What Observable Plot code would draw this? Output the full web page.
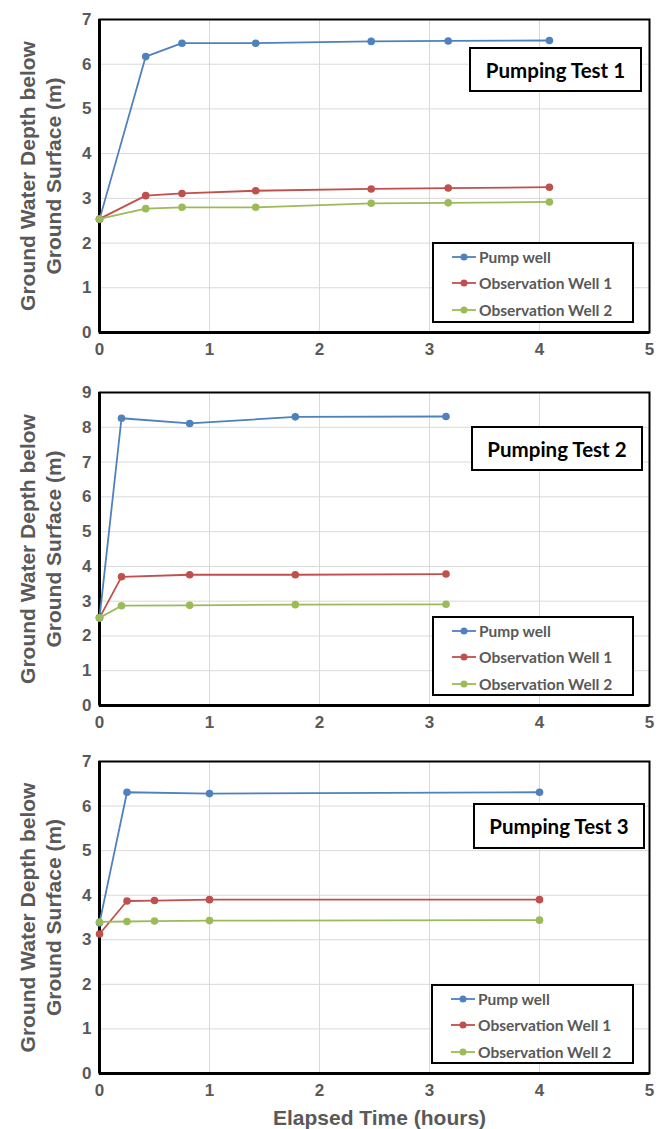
<!DOCTYPE html>
<html>
<head>
<meta charset="utf-8">
<script src="https://cdn.jsdelivr.net/npm/d3@7"></script>
<script src="https://cdn.jsdelivr.net/npm/@observablehq/plot@0.6"></script>
<style>
  html, body { margin: 0; padding: 0; background: #fff; }
  #wrap { position: relative; width: 660px; height: 1129px; }
  #wrap svg.plot { display: block; overflow: visible; }
  .box { position: absolute; box-sizing: border-box; border: 2px solid #000; background: #fff; }
  .title { display: flex; align-items: center; justify-content: center; font-family: Lato, sans-serif; font-weight: bold; font-size: 20.5px; color: #000; }
  .legend { font-family: Lato, sans-serif; font-weight: bold; font-size: 15.5px; color: #595959; }
  .row { position: absolute; left: 18px; height: 20px; display: flex; align-items: center; white-space: nowrap; }
  .row svg { margin-right: 3px; }
</style>
</head>
<body>
<div id="wrap"></div>
<script>
// ---- Data ----
const seriesNames = ["Pump well", "Observation Well 1", "Observation Well 2"];
const seriesColors = ["#4F81BD", "#C0504D", "#9BBB59"];
const panelTitles = ["Pumping Test 1", "Pumping Test 2", "Pumping Test 3"];
const yMax = [7, 9, 7];
const xTicks = [0, 1, 2, 3, 4, 5];
const yTitle = "Ground Water Depth below\nGround Surface (m)";
const xTitle = "Elapsed Time (hours)";

// Test 1
const t1 = [0, 0.42, 0.75, 1.42, 2.47, 3.17, 4.09];
const pump1 = [2.53, 6.17, 6.47, 6.47, 6.51, 6.52, 6.53];
const obsA1 = [2.54, 3.06, 3.11, 3.17, 3.21, 3.23, 3.25];
const obsB1 = [2.54, 2.77, 2.80, 2.80, 2.89, 2.90, 2.92];

// Test 2
const t2 = [0, 0.2, 0.82, 1.78, 3.15];
const pump2 = [2.52, 8.26, 8.11, 8.30, 8.31];
const obsA2 = [2.52, 3.70, 3.76, 3.76, 3.78];
const obsB2 = [2.52, 2.87, 2.88, 2.90, 2.91];

// Test 3
const t3pump = [0, 0.25, 1, 4];
const pump3 = [3.38, 6.31, 6.28, 6.31];
const t3obs = [0, 0.25, 0.5, 1, 4];
const obsA3 = [3.13, 3.87, 3.88, 3.90, 3.90];
const obsB3 = [3.40, 3.41, 3.42, 3.43, 3.44];

function rows(ts, vs, s) { return ts.map((t, i) => ({t, v: vs[i], s})); }

const panels = [
  [rows(t1, pump1, 0), rows(t1, obsA1, 1), rows(t1, obsB1, 2)],
  [rows(t2, pump2, 0), rows(t2, obsA2, 1), rows(t2, obsB2, 2)],
  [rows(t3pump, pump3, 0), rows(t3obs, obsA3, 1), rows(t3obs, obsB3, 2)]
];

// ---- Layout (positions/styles only) ----
const layout = [
  {top: 0,   height: 370, mt: 19, mb: 38, title: {l: 469, t: 47, w: 173, h: 45}, legend: {l: 432, t: 242, w: 202, h: 81}},
  {top: 370, height: 370, mt: 22, mb: 35, title: {l: 471, t: 426, w: 172, h: 45}, legend: {l: 432, t: 616, w: 202, h: 80}},
  {top: 740, height: 389, mt: 21, mb: 56, title: {l: 473, t: 803, w: 172, h: 46}, legend: {l: 431, t: 984, w: 203, h: 80}}
];

const wrap = document.getElementById("wrap");
const intFmt = d3.format("d");

panels.forEach((series, p) => {
  const L = layout[p];
  const yTicks = d3.range(0, yMax[p] + 1);
  const marks = [
    Plot.gridX(xTicks, {stroke: "#d9d9d9", strokeOpacity: 1, strokeWidth: 1}),
    Plot.gridY(yTicks, {stroke: "#d9d9d9", strokeOpacity: 1, strokeWidth: 1}),
    Plot.axisX({ticks: xTicks, tickFormat: intFmt, tickSize: 0, tickPadding: 10, fontSize: 17, fontWeight: "bold", label: null}),
    Plot.axisY({ticks: yTicks, tickFormat: intFmt, tickSize: 0, tickPadding: 8, fontSize: 17, fontWeight: "bold", label: null}),
    Plot.frame({stroke: "#000", strokeWidth: 2}),
    Plot.ruleX([0], {stroke: "#000", strokeWidth: 3}),
    Plot.ruleY([0], {stroke: "#000", strokeWidth: 3}),
  ];
  series.forEach((data, s) => {
    marks.push(Plot.line(data, {x: "t", y: "v", stroke: seriesColors[s], strokeWidth: 1.8}));
    marks.push(Plot.dot(data, {x: "t", y: "v", fill: seriesColors[s], r: 3.8}));
  });
  marks.push(Plot.text([yTitle], {
    frameAnchor: "left", text: d => d, rotate: -90, dx: -60, textAnchor: "middle", lineAnchor: "middle",
    fontSize: 21, fontWeight: "bold", fill: "#595959", lineHeight: 1.24
  }));
  if (p === 2) {
    marks.push(Plot.text([xTitle], {
      frameAnchor: "bottom", text: d => d, dy: 45, dx: 5, textAnchor: "middle", lineAnchor: "middle",
      fontSize: 21, fontWeight: "bold", fill: "#595959"
    }));
  }
  const chart = Plot.plot({
    width: 660,
    height: L.height,
    marginLeft: 99,
    marginRight: 11,
    marginTop: L.mt,
    marginBottom: L.mb,
    style: {fontFamily: "'Liberation Sans', Arial, sans-serif", color: "#595959", background: "#fff", overflow: "visible"},
    x: {domain: [0, 5]},
    y: {domain: [0, yMax[p]]},
    marks
  });
  chart.classList.add("plot");
  wrap.appendChild(chart);

  // Title box
  const tb = document.createElement("div");
  tb.className = "box title";
  Object.assign(tb.style, {left: L.title.l + "px", top: L.title.t + "px", width: L.title.w + "px", height: L.title.h + "px"});
  tb.textContent = panelTitles[p];
  wrap.appendChild(tb);

  // Legend box
  const lb = document.createElement("div");
  lb.className = "box legend";
  Object.assign(lb.style, {left: L.legend.l + "px", top: L.legend.t + "px", width: L.legend.w + "px", height: L.legend.h + "px"});
  seriesNames.forEach((name, s) => {
    const r = document.createElement("div");
    r.className = "row";
    r.style.top = (3 + s * 26.3) + "px";
    r.innerHTML = `<svg width="24" height="10"><line x1="0" y1="5" x2="24" y2="5" stroke="${seriesColors[s]}" stroke-width="1.8"/><circle cx="12" cy="5" r="3.5" fill="${seriesColors[s]}"/></svg><span>${name}</span>`;
    lb.appendChild(r);
  });
  wrap.appendChild(lb);
});
</script>
</body>
</html>
